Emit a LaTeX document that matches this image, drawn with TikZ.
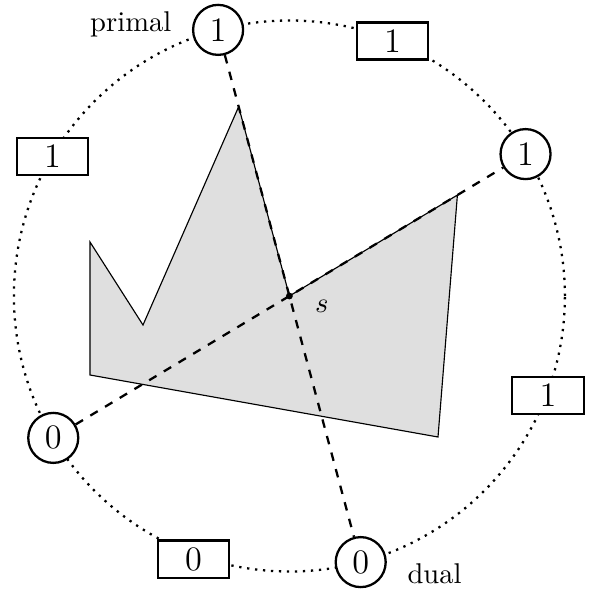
\documentclass[tikz,border=0pt]{standalone}
\usetikzlibrary{positioning}
\begin{document}
\begin{tikzpicture}[x=0.35pt,y=0.35pt,
        vertex/.style={circle,draw,thick,fill=white,minimum size=17.5pt,inner sep=0pt,font=\large},
        bit/.style={rectangle,draw,thick,fill=white,minimum width=25pt,minimum height=13pt,inner sep=0pt,font=\large}]
        \useasboundingbox (-289.4,-295) rectangle (301.6,296);
        % Polygon
        \coordinate (s) at (0,0);
        \filldraw [fill=gray!25] (-199.4,54) -- (-146.4,-29) -- (105:196) -- (s)
            -- (31:196) -- (148.6,-141) -- (-199.4,-79) -- cycle;
        % Dotted circle
        \draw [thick,dotted] (s) circle (275.5);
        \node (primal) at (105:275.5) [vertex] {1};
        \node (c1) at (31:275.5) [vertex] {1};
        \node (c2) at (211:275.5) [vertex] {0};
        \node (dual) at (285:275.5) [vertex] {0};
        \node (b1) at (68:275) [bit] {1};
        \node (b2) at (149.5:275) [bit] {1};
        \node (b3) at (250:280) [bit] {0};
        \node (b4) at (339:277) [bit] {1};
        % Lines through s
        \draw [thick,dashed] (primal) -- (dual);
        \draw [thick,dashed] (c2) -- (c1);
        \fill (s) circle (1.2pt);
        \node (ls) [right=5.5pt of s,yshift=-3.5pt] {$s$};
        \node (lprimal) [left=3.7pt of primal,yshift=2pt] {primal};
        \node (ldual) [right=3.7pt of dual,yshift=-4pt] {dual};
\end{tikzpicture}
\end{document}
